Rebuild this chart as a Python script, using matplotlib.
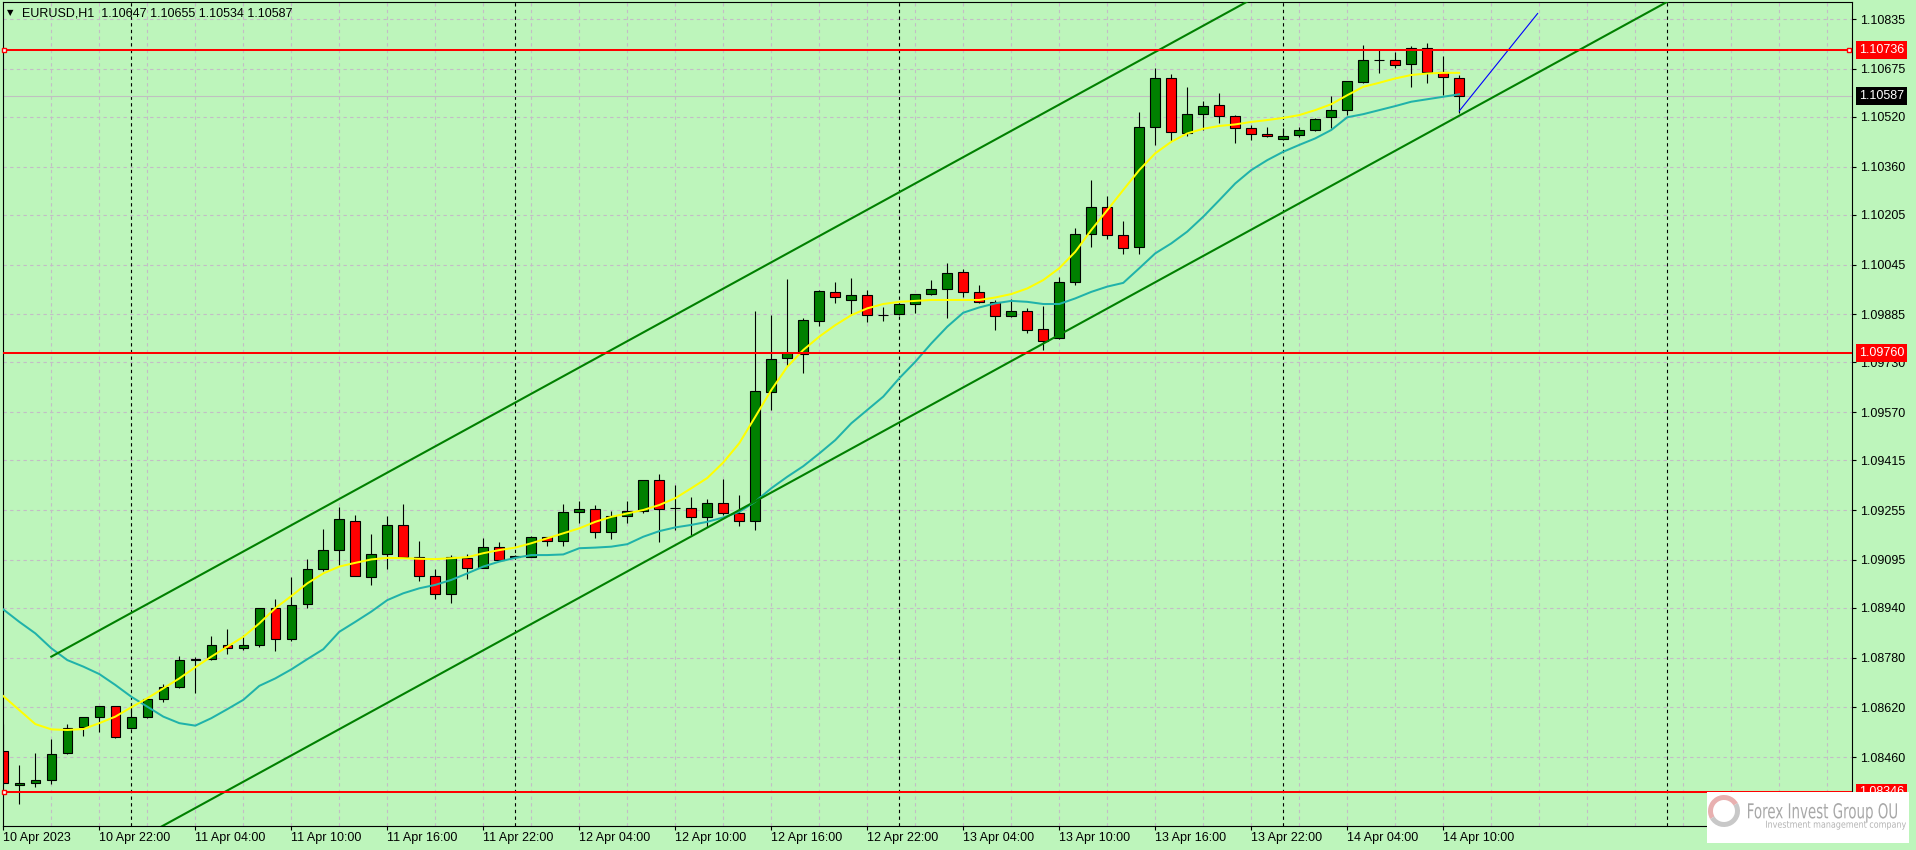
import numpy as np
import matplotlib
matplotlib.use("Agg")
import matplotlib.pyplot as plt
from matplotlib.patches import Rectangle, Wedge, PathPatch
from matplotlib.textpath import TextPath
from matplotlib.font_manager import FontProperties
from matplotlib.transforms import Affine2D, IdentityTransform, blended_transform_factory

plt.rcParams["font.family"] = ["Liberation Sans", "DejaVu Sans"]

# EURUSD H1, first bar = 10 Apr 2023 16:00
opens = [1.08480, 1.08369, 1.08376, 1.08385, 1.08472, 1.08556, 1.08588, 1.08623, 1.08553, 1.08588,
         1.08646, 1.08684, 1.08771, 1.08776, 1.08820, 1.08811, 1.08820, 1.08939, 1.08839, 1.08952,
         1.09064, 1.09125, 1.09221, 1.09040, 1.09112, 1.09206, 1.09105, 1.09044, 1.08984, 1.09100,
         1.09069, 1.09135, 1.09104, 1.09105, 1.09167, 1.09156, 1.09248, 1.09257, 1.09185, 1.09237,
         1.09251, 1.09351, 1.09261, 1.09260, 1.09233, 1.09277, 1.09246, 1.09221, 1.09636, 1.09743,
         1.09756, 1.09862, 1.09956, 1.09930, 1.09946, 1.09884, 1.09885, 1.09917, 1.09949, 1.09965,
         1.10020, 1.09956, 1.09923, 1.09880, 1.09895, 1.09836, 1.09808, 1.09988, 1.10143, 1.10229,
         1.10139, 1.10100, 1.10488, 1.10644, 1.10467, 1.10528, 1.10557, 1.10524, 1.10483, 1.10466,
         1.10448, 1.10461, 1.10478, 1.10519, 1.10544, 1.10633, 1.10702, 1.10702, 1.10689, 1.10741,
         1.10665, 1.10647]
highs = [1.08566, 1.08434, 1.08472, 1.08518, 1.08566, 1.08590, 1.08625, 1.08625, 1.08633, 1.08649,
         1.08694, 1.08785, 1.08783, 1.08850, 1.08871, 1.08853, 1.08940, 1.08968, 1.09038, 1.09096,
         1.09193, 1.09264, 1.09239, 1.09178, 1.09236, 1.09274, 1.09155, 1.09065, 1.09110, 1.09112,
         1.09165, 1.09152, 1.09110, 1.09172, 1.09168, 1.09274, 1.09285, 1.09271, 1.09253, 1.09285,
         1.09352, 1.09371, 1.09335, 1.09296, 1.09289, 1.09355, 1.09303, 1.09895, 1.09882, 1.09998,
         1.09874, 1.09962, 1.09988, 1.10001, 1.09962, 1.09909, 1.09919, 1.09951, 1.09995, 1.10049,
         1.10030, 1.09979, 1.09931, 1.09933, 1.09904, 1.09911, 1.10004, 1.10162, 1.10317, 1.10265,
         1.10185, 1.10536, 1.10678, 1.10658, 1.10615, 1.10571, 1.10596, 1.10527, 1.10494, 1.10487,
         1.10483, 1.10488, 1.10518, 1.10587, 1.10637, 1.10751, 1.10735, 1.10730, 1.10748, 1.10757,
         1.10716, 1.10655]
lows = [1.08374, 1.08308, 1.08365, 1.08372, 1.08470, 1.08529, 1.08542, 1.08522, 1.08549, 1.08585,
        1.08636, 1.08683, 1.08665, 1.08772, 1.08791, 1.08804, 1.08815, 1.08802, 1.08832, 1.08939,
        1.09060, 1.09078, 1.09042, 1.09014, 1.09065, 1.09103, 1.09027, 1.08969, 1.08957, 1.09033,
        1.09067, 1.09092, 1.09100, 1.09103, 1.09139, 1.09139, 1.09212, 1.09164, 1.09161, 1.09214,
        1.09246, 1.09153, 1.09191, 1.09175, 1.09201, 1.09239, 1.09204, 1.09191, 1.09577, 1.09719,
        1.09697, 1.09847, 1.09922, 1.09882, 1.09861, 1.09864, 1.09883, 1.09890, 1.09947, 1.09874,
        1.09941, 1.09920, 1.09834, 1.09877, 1.09824, 1.09770, 1.09806, 1.09980, 1.10102, 1.10127,
        1.10079, 1.10079, 1.10430, 1.10443, 1.10460, 1.10478, 1.10501, 1.10437, 1.10446, 1.10456,
        1.10445, 1.10456, 1.10476, 1.10483, 1.10527, 1.10628, 1.10660, 1.10676, 1.10617, 1.10630,
        1.10590, 1.10534]
closes = [1.08376, 1.08376, 1.08385, 1.08469, 1.08553, 1.08588, 1.08623, 1.08524, 1.08588, 1.08646,
          1.08684, 1.08771, 1.08776, 1.08820, 1.08811, 1.08820, 1.08939, 1.08839, 1.08948, 1.09064,
          1.09125, 1.09225, 1.09044, 1.09112, 1.09206, 1.09105, 1.09044, 1.08984, 1.09103, 1.09069,
          1.09135, 1.09094, 1.09106, 1.09167, 1.09156, 1.09248, 1.09257, 1.09183, 1.09237, 1.09251,
          1.09351, 1.09259, 1.09261, 1.09233, 1.09277, 1.09246, 1.09221, 1.09637, 1.09740, 1.09759,
          1.09865, 1.09959, 1.09940, 1.09946, 1.09882, 1.09884, 1.09917, 1.09949, 1.09965, 1.10017,
          1.09957, 1.09925, 1.09880, 1.09895, 1.09834, 1.09800, 1.09988, 1.10143, 1.10229, 1.10139,
          1.10097, 1.10487, 1.10644, 1.10470, 1.10528, 1.10554, 1.10524, 1.10483, 1.10464, 1.10458,
          1.10458, 1.10477, 1.10515, 1.10541, 1.10635, 1.10702, 1.10703, 1.10686, 1.10741, 1.10665,
          1.10648, 1.10587]

ma_fast = [1.08656, 1.08611, 1.08566, 1.08549, 1.08547, 1.08550, 1.08569, 1.08590, 1.08620, 1.08649,
           1.08681, 1.08713, 1.08749, 1.08783, 1.08815, 1.08847, 1.08890, 1.08939, 1.08978, 1.09019,
           1.09051, 1.09073, 1.09085, 1.09096, 1.09101, 1.09100, 1.09098, 1.09097, 1.09100, 1.09103,
           1.09116, 1.09126, 1.09134, 1.09148, 1.09164, 1.09180, 1.09196, 1.09217, 1.09233, 1.09244,
           1.09255, 1.09271, 1.09293, 1.09325, 1.09358, 1.09408, 1.09470, 1.09555, 1.09641, 1.09716,
           1.09770, 1.09813, 1.09850, 1.09882, 1.09904, 1.09918, 1.09925, 1.09928, 1.09931, 1.09931,
           1.09931, 1.09931, 1.09939, 1.09950, 1.09968, 1.09995, 1.10033, 1.10086, 1.10156, 1.10220,
           1.10285, 1.10349, 1.10403, 1.10440, 1.10467, 1.10482, 1.10491, 1.10496, 1.10504, 1.10510,
           1.10517, 1.10526, 1.10542, 1.10561, 1.10590, 1.10617, 1.10630, 1.10644, 1.10655, 1.10660,
           1.10662, 1.10662]
ma_slow = [1.08935, 1.08895, 1.08858, 1.08810, 1.08772, 1.08751, 1.08727, 1.08692, 1.08654, 1.08622,
           1.08590, 1.08569, 1.08561, 1.08585, 1.08614, 1.08644, 1.08689, 1.08713, 1.08742, 1.08775,
           1.08807, 1.08863, 1.08895, 1.08928, 1.08965, 1.08987, 1.09003, 1.09014, 1.09030, 1.09051,
           1.09073, 1.09089, 1.09101, 1.09110, 1.09110, 1.09112, 1.09132, 1.09134, 1.09137, 1.09145,
           1.09169, 1.09187, 1.09199, 1.09207, 1.09217, 1.09231, 1.09249, 1.09282, 1.09325, 1.09362,
           1.09396, 1.09437, 1.09480, 1.09534, 1.09577, 1.09620, 1.09679, 1.09732, 1.09791, 1.09845,
           1.09890, 1.09907, 1.09920, 1.09928, 1.09925, 1.09918, 1.09918, 1.09936, 1.09957, 1.09974,
           1.09986, 1.10033, 1.10081, 1.10113, 1.10151, 1.10199, 1.10252, 1.10306, 1.10349, 1.10381,
           1.10408, 1.10430, 1.10451, 1.10478, 1.10519, 1.10529, 1.10542, 1.10555, 1.10569, 1.10577,
           1.10585, 1.10593]

# horizontal levels
levels = [1.10736, 1.09760, 1.08346]
last_price = 1.10587

# channel anchors (bar index, price)
chan_bars = [3, 91]
chan_upper = [1.08783, 1.11265]
chan_lower = [1.08042, 1.10524]

# short trend line from last low
trend_bars = [91, 95.9]
trend_prices = [1.10539, 1.10853]

y_ticks = [1.10835, 1.10675, 1.10520, 1.10360, 1.10205, 1.10045, 1.09885, 1.09730,
           1.09570, 1.09415, 1.09255, 1.09095, 1.08940, 1.08780, 1.08620, 1.08460]
x_tick_bars = list(range(0, 91, 6))
x_tick_labels = ["10 Apr 2023", "10 Apr 22:00", "11 Apr 04:00", "11 Apr 10:00", "11 Apr 16:00",
                 "11 Apr 22:00", "12 Apr 04:00", "12 Apr 10:00", "12 Apr 16:00", "12 Apr 22:00",
                 "13 Apr 04:00", "13 Apr 10:00", "13 Apr 16:00", "13 Apr 22:00", "14 Apr 04:00",
                 "14 Apr 10:00"]
day_breaks = [8, 32, 56, 80, 104]

BG = "#bdf5bb"
GRID = "#c3bcc6"
UP = "#008000"
DOWN = "#ff0000"

W, H = 1916, 850
fig = plt.figure(figsize=(W / 100, H / 100), dpi=100, facecolor=BG)
ax = fig.add_axes([3 / W, 24 / H, 1849 / W, 824 / H], facecolor=BG)
ax.set_xlim(-0.02, 115.55)
ax.set_ylim(1.08238, 1.10890)

for s in ax.spines.values():
    s.set_color("black")
    s.set_linewidth(0.8)

# grid
ax.set_axisbelow(True)
ax.yaxis.tick_right()
ax.set_yticks(y_ticks)
ax.set_yticklabels([f"{v:.5f}" for v in y_ticks])
ax.grid(axis="y", color=GRID, linestyle=(0, (3, 3)), linewidth=0.8)
ax.vlines(np.arange(3, 116, 3), 0, 1, transform=ax.get_xaxis_transform(),
          colors=GRID, linestyles=(0, (3, 3)), linewidth=0.8, zorder=0.6)
ax.vlines(day_breaks, 0, 1, transform=ax.get_xaxis_transform(),
          colors="black", linestyles=(0, (3, 3)), linewidth=0.8, zorder=0.7)

ax.set_xticks(x_tick_bars)
ax.set_xticklabels(x_tick_labels)
for lbl in ax.get_xticklabels():
    lbl.set_horizontalalignment("left")
ax.tick_params(axis="x", length=3, width=0.8, pad=1.5, labelsize=9)
ax.tick_params(axis="y", length=3, width=0.8, pad=3, labelsize=9)

# current price line
ax.axhline(last_price, color="#c0c0c0", lw=0.8, zorder=0.8)

# candles
x = np.arange(len(opens))
o, h, l, c = map(np.array, (opens, highs, lows, closes))
cols = np.where(c >= o, UP, DOWN)
ax.vlines(x, l, h, colors="black", lw=0.8, zorder=2)
ax.bar(x, np.abs(c - o), bottom=np.minimum(o, c), width=0.6, color=cols,
       edgecolor="black", linewidth=0.8, zorder=2.2)

# moving averages
ax.plot(x, ma_slow, color="#20b2aa", lw=1.45, zorder=3)
ax.plot(x, ma_fast, color="#ffff00", lw=1.45, zorder=3.1)

# channel (rays to the right)
slope = (chan_upper[1] - chan_upper[0]) / (chan_bars[1] - chan_bars[0])
far = 130
for line in (chan_upper, chan_lower):
    ax.plot([chan_bars[0], far], [line[0], line[0] + slope * (far - chan_bars[0])],
            color="#008000", lw=1.5, zorder=3.5)

ax.plot(trend_bars, trend_prices, color="#0000ff", lw=0.8, zorder=4)

# horizontal levels
for lv in levels:
    ax.axhline(lv, color="red", lw=1.45, zorder=4)
ax.plot([0.06, 0.06], [levels[0], levels[2]], ls="none", marker="s", ms=3.5,
        mfc="white", mec="red", mew=1, zorder=4.5, clip_on=False)
ax.plot([115.35], [levels[0]], ls="none", marker="s", ms=3.5,
        mfc="white", mec="red", mew=1, zorder=4.5, clip_on=False)

trans = blended_transform_factory(ax.transAxes, ax.transData)
for lv, bg in [(levels[0], "red"), (levels[1], "red"), (levels[2], "red"), (last_price, "black")]:
    ax.text(1 + 7 / 1849, lv, f"{lv:.5f}", transform=trans, ha="left", va="center",
            fontsize=9, color="white", clip_on=False, zorder=6,
            bbox=dict(boxstyle="square,pad=0.22", fc=bg, ec="none"))

# title
title = f"EURUSD,H1  {opens[-1]:.5f} {highs[-1]:.5f} {lows[-1]:.5f} {closes[-1]:.5f}"
fig.text(22 / W, 1 - 13 / H, title, ha="left", va="center", fontsize=9)
fig.text(7 / W, 1 - 13 / H, "\u25bc", ha="left", va="center", fontsize=6,
         family=["DejaVu Sans"])

# logo box
ident = IdentityTransform()
fig.add_artist(Rectangle((1707, 7), 202, 51, fc="white", ec="none",
                         transform=ident, zorder=10))
fig.add_artist(Wedge((1724, 39), 16, 30, 210, width=5, fc="#e8b0b0", ec="none",
                     transform=ident, zorder=11))
fig.add_artist(Wedge((1724, 39), 16, 210, 390, width=5, fc="#c8c8c8", ec="none",
                     transform=ident, zorder=11))


def logo_text(s, x0, baseline, width, cap, color):
    tp = TextPath((0, 0), s, size=20, prop=FontProperties(family="DejaVu Sans"))
    ext = tp.get_extents()
    tr = Affine2D().translate(-ext.x0, 0).scale(width / ext.width, cap / 14.6)
    tr = tr.translate(x0, H - baseline)
    fig.add_artist(PathPatch(tp, transform=tr, fc=color, ec="none", zorder=12))


logo_text("Forex Invest Group OU", 1748, 818.3, 149, 15, "#a8a8a8")
logo_text("Investment management company", 1766, 827.7, 140, 7, "#b4b4b4")

fig.savefig("out.png", dpi=100, facecolor=BG)
